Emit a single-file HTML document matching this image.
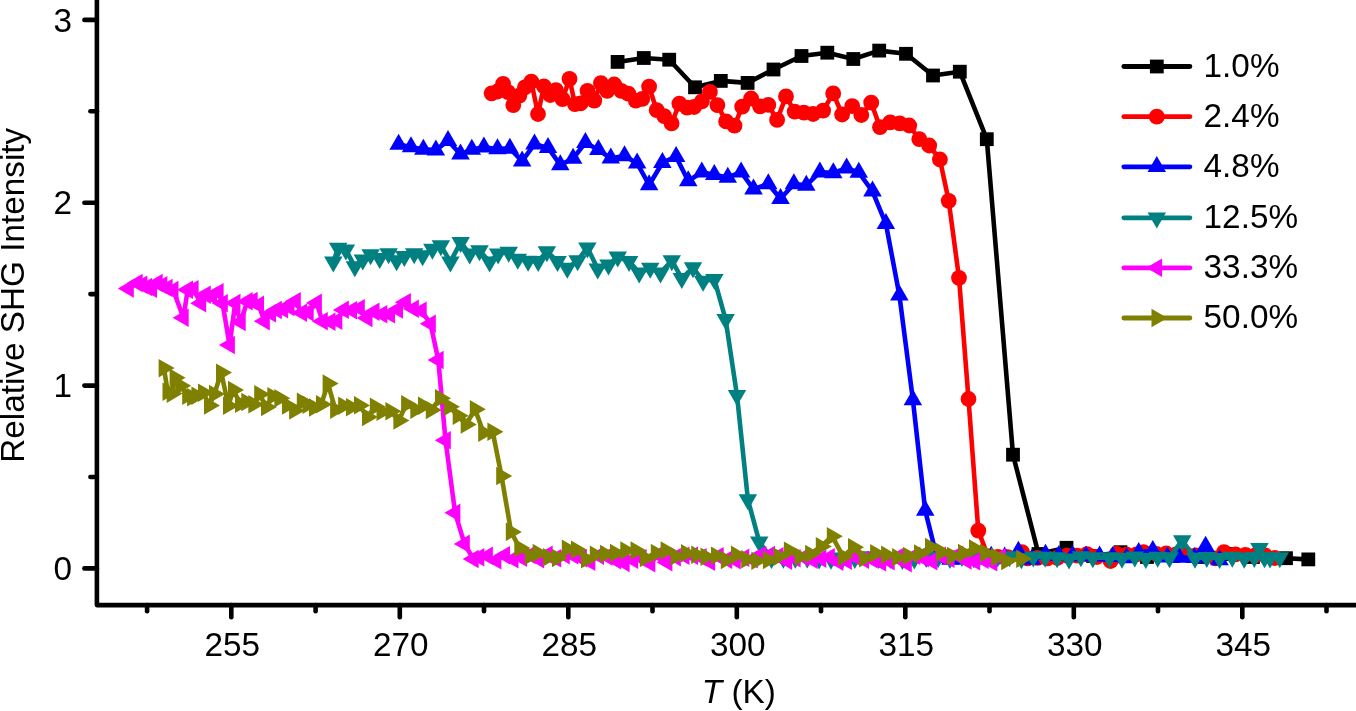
<!DOCTYPE html>
<html lang="en"><head><meta charset="utf-8"><title>Relative SHG Intensity vs T (K)</title>
<style>html,body{margin:0;padding:0;background:#fff;overflow:hidden}svg{display:block}text{font-family:"Liberation Sans",sans-serif;fill:#000}</style></head><body>
<svg width="1356" height="711" viewBox="0 0 1356 711">
<rect width="1356" height="711" fill="#fff"/>
<g fill="#000000" stroke="none">
<polyline points="617.6,61.9 643.8,58 669.2,59.7 695,87.3 720.8,80.9 747.6,82.9 773.5,69.5 801.5,56 827.3,52.7 853.3,59 879.2,50.6 906,53.8 933,75.5 959.8,71.7 986.8,139.2 1013,454.7 1038.5,554 1066.5,547.8 1093,556 1120.5,552.2 1147,557 1173,556 1200,557 1226,554 1253,557 1286,558.2 1308.3,559.4" fill="none" stroke="#000000" stroke-width="4.6" stroke-linejoin="round" stroke-linecap="round"/>
<rect x="610.7" y="55" width="13.8" height="13.8"/><rect x="636.9" y="51.1" width="13.8" height="13.8"/><rect x="662.3" y="52.8" width="13.8" height="13.8"/><rect x="688.1" y="80.4" width="13.8" height="13.8"/><rect x="713.9" y="74" width="13.8" height="13.8"/><rect x="740.7" y="76" width="13.8" height="13.8"/><rect x="766.6" y="62.6" width="13.8" height="13.8"/><rect x="794.6" y="49.1" width="13.8" height="13.8"/><rect x="820.4" y="45.8" width="13.8" height="13.8"/><rect x="846.4" y="52.1" width="13.8" height="13.8"/><rect x="872.3" y="43.7" width="13.8" height="13.8"/><rect x="899.1" y="46.9" width="13.8" height="13.8"/><rect x="926.1" y="68.6" width="13.8" height="13.8"/><rect x="952.9" y="64.8" width="13.8" height="13.8"/><rect x="979.9" y="132.3" width="13.8" height="13.8"/><rect x="1006.1" y="447.8" width="13.8" height="13.8"/><rect x="1031.6" y="547.1" width="13.8" height="13.8"/><rect x="1059.6" y="540.9" width="13.8" height="13.8"/><rect x="1086.1" y="549.1" width="13.8" height="13.8"/><rect x="1113.6" y="545.3" width="13.8" height="13.8"/><rect x="1140.1" y="550.1" width="13.8" height="13.8"/><rect x="1166.1" y="549.1" width="13.8" height="13.8"/><rect x="1193.1" y="550.1" width="13.8" height="13.8"/><rect x="1219.1" y="547.1" width="13.8" height="13.8"/><rect x="1246.1" y="550.1" width="13.8" height="13.8"/><rect x="1279.1" y="551.3" width="13.8" height="13.8"/><rect x="1301.4" y="552.5" width="13.8" height="13.8"/>
</g>
<g fill="#ff0000" stroke="none">
<polyline points="491.6,93.3 497.5,91.5 503.1,83.8 508,92.2 513.3,105.1 519.3,95.7 524.9,87.3 531.3,81.6 538,114 543.9,86.3 550.2,95 555.9,90.1 562.5,99.2 569.5,78.8 574.9,104.1 580.5,103.4 587.5,90.8 594.3,100.6 600.9,83.1 607.2,90.8 614.2,84.5 621.3,90.8 628.3,93.6 635.8,100.6 642.3,98.8 649.1,86.7 656.7,110.2 664.2,116.1 671.6,123.4 679.4,103.7 687.1,107.7 694.1,107 701.9,101.3 709.9,91.9 717.4,105.1 726.1,121.4 734.5,125.7 742.2,106.7 751.1,98.5 760,106.3 768.3,104.9 777.1,119.9 786,96.4 794.7,111.6 803.9,112.6 813.1,114 823.1,110.7 833.2,93.4 842.1,114.5 852.2,106.1 861.3,115 871.2,102.7 880,127.2 890.2,122.3 899.7,123.4 909.2,125.5 919.3,139.2 929.2,145.5 939.9,159.5 948.7,200.8 959,277.8 968.5,399 978.3,530.6 988,556.3 997.9,556.9 1007.8,557.2 1022,552.2 1027.6,558.4 1037.5,557.8 1047.4,558.3 1057.3,557.9 1067.2,555.7 1077.1,555.7 1087,554.1 1096.9,557 1110.6,561 1116.7,553.9 1126.6,554.6 1136.5,554.4 1143.5,552.2 1156.3,553.8 1166.2,553.5 1176.1,554.3 1186,554.1 1195.9,555.5 1205.8,553.6 1215.7,558.3 1224,552.2 1235.5,554.3 1245.4,554.9 1255.3,555.4 1265.2,555.5 1274.7,558" fill="none" stroke="#ff0000" stroke-width="4.6" stroke-linejoin="round" stroke-linecap="round"/>
<circle cx="491.6" cy="93.3" r="7.9"/><circle cx="497.5" cy="91.5" r="7.9"/><circle cx="503.1" cy="83.8" r="7.9"/><circle cx="508" cy="92.2" r="7.9"/><circle cx="513.3" cy="105.1" r="7.9"/><circle cx="519.3" cy="95.7" r="7.9"/><circle cx="524.9" cy="87.3" r="7.9"/><circle cx="531.3" cy="81.6" r="7.9"/><circle cx="538" cy="114" r="7.9"/><circle cx="543.9" cy="86.3" r="7.9"/><circle cx="550.2" cy="95" r="7.9"/><circle cx="555.9" cy="90.1" r="7.9"/><circle cx="562.5" cy="99.2" r="7.9"/><circle cx="569.5" cy="78.8" r="7.9"/><circle cx="574.9" cy="104.1" r="7.9"/><circle cx="580.5" cy="103.4" r="7.9"/><circle cx="587.5" cy="90.8" r="7.9"/><circle cx="594.3" cy="100.6" r="7.9"/><circle cx="600.9" cy="83.1" r="7.9"/><circle cx="607.2" cy="90.8" r="7.9"/><circle cx="614.2" cy="84.5" r="7.9"/><circle cx="621.3" cy="90.8" r="7.9"/><circle cx="628.3" cy="93.6" r="7.9"/><circle cx="635.8" cy="100.6" r="7.9"/><circle cx="642.3" cy="98.8" r="7.9"/><circle cx="649.1" cy="86.7" r="7.9"/><circle cx="656.7" cy="110.2" r="7.9"/><circle cx="664.2" cy="116.1" r="7.9"/><circle cx="671.6" cy="123.4" r="7.9"/><circle cx="679.4" cy="103.7" r="7.9"/><circle cx="687.1" cy="107.7" r="7.9"/><circle cx="694.1" cy="107" r="7.9"/><circle cx="701.9" cy="101.3" r="7.9"/><circle cx="709.9" cy="91.9" r="7.9"/><circle cx="717.4" cy="105.1" r="7.9"/><circle cx="726.1" cy="121.4" r="7.9"/><circle cx="734.5" cy="125.7" r="7.9"/><circle cx="742.2" cy="106.7" r="7.9"/><circle cx="751.1" cy="98.5" r="7.9"/><circle cx="760" cy="106.3" r="7.9"/><circle cx="768.3" cy="104.9" r="7.9"/><circle cx="777.1" cy="119.9" r="7.9"/><circle cx="786" cy="96.4" r="7.9"/><circle cx="794.7" cy="111.6" r="7.9"/><circle cx="803.9" cy="112.6" r="7.9"/><circle cx="813.1" cy="114" r="7.9"/><circle cx="823.1" cy="110.7" r="7.9"/><circle cx="833.2" cy="93.4" r="7.9"/><circle cx="842.1" cy="114.5" r="7.9"/><circle cx="852.2" cy="106.1" r="7.9"/><circle cx="861.3" cy="115" r="7.9"/><circle cx="871.2" cy="102.7" r="7.9"/><circle cx="880" cy="127.2" r="7.9"/><circle cx="890.2" cy="122.3" r="7.9"/><circle cx="899.7" cy="123.4" r="7.9"/><circle cx="909.2" cy="125.5" r="7.9"/><circle cx="919.3" cy="139.2" r="7.9"/><circle cx="929.2" cy="145.5" r="7.9"/><circle cx="939.9" cy="159.5" r="7.9"/><circle cx="948.7" cy="200.8" r="7.9"/><circle cx="959" cy="277.8" r="7.9"/><circle cx="968.5" cy="399" r="7.9"/><circle cx="978.3" cy="530.6" r="7.9"/><circle cx="988" cy="556.3" r="7.9"/><circle cx="997.9" cy="556.9" r="7.9"/><circle cx="1007.8" cy="557.2" r="7.9"/><circle cx="1022" cy="552.2" r="7.9"/><circle cx="1027.6" cy="558.4" r="7.9"/><circle cx="1037.5" cy="557.8" r="7.9"/><circle cx="1047.4" cy="558.3" r="7.9"/><circle cx="1057.3" cy="557.9" r="7.9"/><circle cx="1067.2" cy="555.7" r="7.9"/><circle cx="1077.1" cy="555.7" r="7.9"/><circle cx="1087" cy="554.1" r="7.9"/><circle cx="1096.9" cy="557" r="7.9"/><circle cx="1110.6" cy="561" r="7.9"/><circle cx="1116.7" cy="553.9" r="7.9"/><circle cx="1126.6" cy="554.6" r="7.9"/><circle cx="1136.5" cy="554.4" r="7.9"/><circle cx="1143.5" cy="552.2" r="7.9"/><circle cx="1156.3" cy="553.8" r="7.9"/><circle cx="1166.2" cy="553.5" r="7.9"/><circle cx="1176.1" cy="554.3" r="7.9"/><circle cx="1186" cy="554.1" r="7.9"/><circle cx="1195.9" cy="555.5" r="7.9"/><circle cx="1205.8" cy="553.6" r="7.9"/><circle cx="1215.7" cy="558.3" r="7.9"/><circle cx="1224" cy="552.2" r="7.9"/><circle cx="1235.5" cy="554.3" r="7.9"/><circle cx="1245.4" cy="554.9" r="7.9"/><circle cx="1255.3" cy="555.4" r="7.9"/><circle cx="1265.2" cy="555.5" r="7.9"/><circle cx="1274.7" cy="558" r="7.9"/>
</g>
<g fill="#0000ff" stroke="none">
<polyline points="398.6,144.5 411,147 423.4,149.4 435.9,150.1 448,140.7 460.5,154.3 471.8,149.4 483.9,147.3 497.5,149 509.9,148.4 522.1,161.1 534.5,144.2 548,147.7 560.3,164.9 573.1,158.5 585.4,142.7 598.4,149.8 610.8,158.3 624.5,156 637.1,163.2 649.1,185 662.4,162.7 676.1,156.7 688.2,181 701.8,172.3 714.3,174.8 727.8,177.4 741.1,172.1 753.5,189.2 768.3,184 780.5,198.8 793.9,184 806.3,185.4 819.9,172.1 833.3,173 846.6,168.1 858.8,172.5 872.5,191.3 885.9,223.8 899.4,295.3 912.9,399.9 925.2,510.4 937,557.7 950.5,559.4 964.1,559.1 977.6,559.3 991.2,556.4 1004.7,557.1 1018.4,551.4 1031.8,559.4 1045.5,554.5 1058.9,555.8 1072.5,555.9 1086,556.2 1099.6,556.2 1112.7,556.7 1126.7,557.9 1138.7,552.6 1152.8,550.7 1167.3,557.1 1179,557.5 1194.4,557.8 1205.6,546.5 1219.5,560" fill="none" stroke="#0000ff" stroke-width="4.6" stroke-linejoin="round" stroke-linecap="round"/>
<polygon points="398.6,133.8 407.9,149.8 389.4,149.8"/><polygon points="411,136.3 420.2,152.3 401.8,152.3"/><polygon points="423.4,138.7 432.6,154.7 414.1,154.7"/><polygon points="435.9,139.4 445.1,155.4 426.6,155.4"/><polygon points="448,130 457.2,146 438.8,146"/><polygon points="460.5,143.6 469.8,159.6 451.2,159.6"/><polygon points="471.8,138.7 481.1,154.7 462.6,154.7"/><polygon points="483.9,136.6 493.1,152.6 474.6,152.6"/><polygon points="497.5,138.3 506.8,154.3 488.2,154.3"/><polygon points="509.9,137.7 519.1,153.7 500.6,153.7"/><polygon points="522.1,150.4 531.4,166.4 512.9,166.4"/><polygon points="534.5,133.5 543.8,149.5 525.2,149.5"/><polygon points="548,137 557.2,153 538.8,153"/><polygon points="560.3,154.2 569.5,170.2 551,170.2"/><polygon points="573.1,147.8 582.4,163.8 563.9,163.8"/><polygon points="585.4,132 594.6,148 576.1,148"/><polygon points="598.4,139.1 607.6,155.1 589.1,155.1"/><polygon points="610.8,147.6 620,163.6 601.5,163.6"/><polygon points="624.5,145.3 633.8,161.3 615.2,161.3"/><polygon points="637.1,152.5 646.4,168.5 627.9,168.5"/><polygon points="649.1,174.3 658.4,190.3 639.9,190.3"/><polygon points="662.4,152 671.6,168 653.1,168"/><polygon points="676.1,146 685.4,162 666.9,162"/><polygon points="688.2,170.3 697.5,186.3 679,186.3"/><polygon points="701.8,161.6 711,177.6 692.5,177.6"/><polygon points="714.3,164.1 723.5,180.1 705,180.1"/><polygon points="727.8,166.7 737,182.7 718.5,182.7"/><polygon points="741.1,161.4 750.4,177.4 731.9,177.4"/><polygon points="753.5,178.5 762.8,194.5 744.2,194.5"/><polygon points="768.3,173.3 777.5,189.3 759,189.3"/><polygon points="780.5,188.1 789.8,204.1 771.2,204.1"/><polygon points="793.9,173.3 803.1,189.3 784.6,189.3"/><polygon points="806.3,174.7 815.5,190.7 797,190.7"/><polygon points="819.9,161.4 829.1,177.4 810.6,177.4"/><polygon points="833.3,162.3 842.5,178.3 824,178.3"/><polygon points="846.6,157.4 855.9,173.4 837.4,173.4"/><polygon points="858.8,161.8 868,177.8 849.5,177.8"/><polygon points="872.5,180.6 881.8,196.6 863.2,196.6"/><polygon points="885.9,213.1 895.1,229.1 876.6,229.1"/><polygon points="899.4,284.6 908.6,300.6 890.1,300.6"/><polygon points="912.9,389.2 922.1,405.2 903.6,405.2"/><polygon points="925.2,499.7 934.5,515.7 916,515.7"/><polygon points="937,547 946.2,563 927.8,563"/><polygon points="950.5,548.7 959.8,564.7 941.2,564.7"/><polygon points="964.1,548.4 973.4,564.4 954.9,564.4"/><polygon points="977.6,548.6 986.9,564.6 968.4,564.6"/><polygon points="991.2,545.7 1000.5,561.7 982,561.7"/><polygon points="1004.7,546.4 1014,562.4 995.5,562.4"/><polygon points="1018.4,540.7 1027.7,556.7 1009.1,556.7"/><polygon points="1031.8,548.7 1041,564.7 1022.5,564.7"/><polygon points="1045.5,543.8 1054.8,559.8 1036.2,559.8"/><polygon points="1058.9,545.1 1068.2,561.1 1049.7,561.1"/><polygon points="1072.5,545.2 1081.8,561.2 1063.2,561.2"/><polygon points="1086,545.5 1095.2,561.5 1076.8,561.5"/><polygon points="1099.6,545.5 1108.8,561.5 1090.3,561.5"/><polygon points="1112.7,546 1122,562 1103.5,562"/><polygon points="1126.7,547.2 1136,563.2 1117.5,563.2"/><polygon points="1138.7,541.9 1148,557.9 1129.5,557.9"/><polygon points="1152.8,540 1162,556 1143.5,556"/><polygon points="1167.3,546.4 1176.5,562.4 1158,562.4"/><polygon points="1179,546.8 1188.2,562.8 1169.8,562.8"/><polygon points="1194.4,547.1 1203.7,563.1 1185.2,563.1"/><polygon points="1205.6,535.8 1214.8,551.8 1196.3,551.8"/><polygon points="1219.5,549.3 1228.8,565.3 1210.2,565.3"/>
</g>
<g fill="#008080" stroke="none">
<polyline points="333.3,261.7 338.2,248 345.9,249.9 354.8,266.6 362.8,259.8 370.6,254.5 379.7,258.4 388.6,253.6 396.6,260.5 404.3,256.3 414.2,253.6 422.6,255.6 432.4,249.1 440.9,245.6 450.4,261.9 460.6,242.4 469.7,253.8 479.5,250.6 489.6,261.9 498.1,253.7 508.7,252 517.8,259.1 528.1,261 538.2,261.3 546.9,251.5 557.5,261.3 567.3,268 577.6,260.5 587.4,247.7 597.7,268.7 608.5,264.8 617.7,256.9 629.1,261.3 639.2,272.8 650.2,268.1 660.5,272.7 671.8,260.6 681.8,278.3 693,267.6 703.1,281.1 714.4,279.3 725.6,319.3 737,395.3 747.9,499.6 759.3,541.9 771.5,558.4 783.4,558.1 795.3,558 807.2,557.7 819.1,558.8 831,559.1 842.9,557.7 854.8,558.3 866.7,556.5 878.6,558.4 890.5,558.2 902.4,559.3 914.3,558.8 926.2,557.2 938.1,557.5 950,558.3 961.9,556.4 973.8,557.7 985.7,556.8 997.6,556.7 1009.5,556.5 1021.4,558.6 1033.3,556.7 1045.2,557 1057.1,557.5 1069,558.9 1080.9,556.5 1092.8,557.6 1109.5,557.5 1122,558 1134.8,556.8 1145.8,558.2 1157.7,557 1169.5,557.5 1182.3,540.5 1195,558 1206.8,557.2 1219.6,558.3 1232.3,557 1244.2,558 1254.3,557.2 1259.4,548.2 1264.5,557.6 1270,557.8 1279.8,557.5" fill="none" stroke="#008080" stroke-width="4.6" stroke-linejoin="round" stroke-linecap="round"/>
<polygon points="333.3,272.4 342.6,256.4 324.1,256.4"/><polygon points="338.2,258.7 347.4,242.7 328.9,242.7"/><polygon points="345.9,260.6 355.1,244.6 336.6,244.6"/><polygon points="354.8,277.3 364.1,261.3 345.6,261.3"/><polygon points="362.8,270.5 372.1,254.5 353.6,254.5"/><polygon points="370.6,265.2 379.9,249.2 361.4,249.2"/><polygon points="379.7,269.1 388.9,253.1 370.4,253.1"/><polygon points="388.6,264.3 397.9,248.3 379.4,248.3"/><polygon points="396.6,271.2 405.9,255.2 387.4,255.2"/><polygon points="404.3,267 413.6,251 395.1,251"/><polygon points="414.2,264.3 423.4,248.3 404.9,248.3"/><polygon points="422.6,266.3 431.9,250.3 413.4,250.3"/><polygon points="432.4,259.8 441.6,243.8 423.1,243.8"/><polygon points="440.9,256.3 450.1,240.3 431.6,240.3"/><polygon points="450.4,272.6 459.6,256.6 441.1,256.6"/><polygon points="460.6,253.1 469.9,237.1 451.4,237.1"/><polygon points="469.7,264.5 478.9,248.5 460.4,248.5"/><polygon points="479.5,261.3 488.8,245.3 470.2,245.3"/><polygon points="489.6,272.6 498.9,256.6 480.4,256.6"/><polygon points="498.1,264.4 507.4,248.4 488.9,248.4"/><polygon points="508.7,262.7 518,246.7 499.4,246.7"/><polygon points="517.8,269.8 527,253.8 508.5,253.8"/><polygon points="528.1,271.7 537.4,255.7 518.9,255.7"/><polygon points="538.2,272 547.5,256 529,256"/><polygon points="546.9,262.2 556.1,246.2 537.6,246.2"/><polygon points="557.5,272 566.8,256 548.2,256"/><polygon points="567.3,278.7 576.5,262.7 558,262.7"/><polygon points="577.6,271.2 586.9,255.2 568.4,255.2"/><polygon points="587.4,258.4 596.6,242.4 578.1,242.4"/><polygon points="597.7,279.4 607,263.4 588.5,263.4"/><polygon points="608.5,275.5 617.8,259.5 599.2,259.5"/><polygon points="617.7,267.6 627,251.6 608.5,251.6"/><polygon points="629.1,272 638.4,256 619.9,256"/><polygon points="639.2,283.5 648.5,267.5 630,267.5"/><polygon points="650.2,278.8 659.5,262.8 641,262.8"/><polygon points="660.5,283.4 669.8,267.4 651.2,267.4"/><polygon points="671.8,271.3 681,255.3 662.5,255.3"/><polygon points="681.8,289 691,273 672.5,273"/><polygon points="693,278.3 702.2,262.3 683.8,262.3"/><polygon points="703.1,291.8 712.4,275.8 693.9,275.8"/><polygon points="714.4,290 723.6,274 705.1,274"/><polygon points="725.6,330 734.9,314 716.4,314"/><polygon points="737,406 746.2,390 727.8,390"/><polygon points="747.9,510.3 757.1,494.3 738.6,494.3"/><polygon points="759.3,552.6 768.5,536.6 750,536.6"/><polygon points="771.5,569.1 780.8,553.1 762.2,553.1"/><polygon points="783.4,568.8 792.6,552.8 774.1,552.8"/><polygon points="795.3,568.7 804.5,552.7 786,552.7"/><polygon points="807.2,568.4 816.5,552.4 798,552.4"/><polygon points="819.1,569.5 828.4,553.5 809.9,553.5"/><polygon points="831,569.8 840.2,553.8 821.8,553.8"/><polygon points="842.9,568.4 852.1,552.4 833.6,552.4"/><polygon points="854.8,569 864,553 845.5,553"/><polygon points="866.7,567.2 876,551.2 857.5,551.2"/><polygon points="878.6,569.1 887.9,553.1 869.4,553.1"/><polygon points="890.5,568.9 899.8,552.9 881.2,552.9"/><polygon points="902.4,570 911.6,554 893.1,554"/><polygon points="914.3,569.5 923.5,553.5 905,553.5"/><polygon points="926.2,567.9 935.5,551.9 917,551.9"/><polygon points="938.1,568.2 947.4,552.2 928.9,552.2"/><polygon points="950,569 959.2,553 940.8,553"/><polygon points="961.9,567.1 971.1,551.1 952.6,551.1"/><polygon points="973.8,568.4 983,552.4 964.5,552.4"/><polygon points="985.7,567.5 995,551.5 976.5,551.5"/><polygon points="997.6,567.4 1006.9,551.4 988.4,551.4"/><polygon points="1009.5,567.2 1018.8,551.2 1000.2,551.2"/><polygon points="1021.4,569.3 1030.7,553.3 1012.1,553.3"/><polygon points="1033.3,567.4 1042.5,551.4 1024,551.4"/><polygon points="1045.2,567.7 1054.5,551.7 1036,551.7"/><polygon points="1057.1,568.2 1066.3,552.2 1047.8,552.2"/><polygon points="1069,569.6 1078.2,553.6 1059.8,553.6"/><polygon points="1080.9,567.2 1090.2,551.2 1071.7,551.2"/><polygon points="1092.8,568.3 1102,552.3 1083.5,552.3"/><polygon points="1109.5,568.2 1118.8,552.2 1100.2,552.2"/><polygon points="1122,568.7 1131.2,552.7 1112.8,552.7"/><polygon points="1134.8,567.5 1144,551.5 1125.5,551.5"/><polygon points="1145.8,568.9 1155,552.9 1136.5,552.9"/><polygon points="1157.7,567.7 1167,551.7 1148.5,551.7"/><polygon points="1169.5,568.2 1178.8,552.2 1160.2,552.2"/><polygon points="1182.3,551.2 1191.5,535.2 1173,535.2"/><polygon points="1195,568.7 1204.2,552.7 1185.8,552.7"/><polygon points="1206.8,567.9 1216,551.9 1197.5,551.9"/><polygon points="1219.6,569 1228.8,553 1210.3,553"/><polygon points="1232.3,567.7 1241.5,551.7 1223,551.7"/><polygon points="1244.2,568.7 1253.5,552.7 1235,552.7"/><polygon points="1254.3,567.9 1263.5,551.9 1245,551.9"/><polygon points="1259.4,558.9 1268.7,542.9 1250.2,542.9"/><polygon points="1264.5,568.3 1273.8,552.3 1255.2,552.3"/><polygon points="1270,568.5 1279.2,552.5 1260.8,552.5"/><polygon points="1279.8,568.2 1289,552.2 1270.5,552.2"/>
</g>
<g fill="#ff00ff" stroke="none">
<polyline points="128.5,288.5 137.3,283 142,284.7 146.9,287 151.7,288.7 157.4,283 162.1,285.2 167.3,288 173.2,290 183.4,317.8 187.7,289.8 193.3,289.1 200.9,303.3 205.5,294.6 211.7,296 218.3,292.2 222.5,303.2 229.6,345 235.2,303 240.4,322 247.4,301.4 252.4,301 258.7,304.9 264.5,321.2 270.7,313.4 276.6,310 282.8,309.1 289.2,307 295.5,301.2 301.8,312.8 308.4,312.2 316.6,302.9 322.5,321.2 330.2,321.8 337,320.8 343.6,309.9 351.7,310.2 359.5,308.3 367.2,318 374.2,311.8 382,314.2 389.7,314.4 397.7,309.5 405.6,302.2 413.6,308.8 421.4,310.6 430.5,323.7 438.3,360 445.5,440.3 455.1,512.8 464.5,543.9 473.3,559 479,557.4 487.6,555.9 496.1,560.4 504.7,555.2 513.2,559.3 521.8,557.8 530.3,555 538.8,559.1 547.4,554.8 555.9,558.4 564.5,555.1 573,555.3 581.6,558.3 590.1,561.9 598.7,555.6 607.2,556.5 615.8,560.1 624.3,563 632.9,559.7 641.4,558.1 650,563.3 658.5,554.9 667.1,562.2 675.6,557.1 684.2,555.8 692.7,555.6 701.3,557.3 709.8,561.8 718.4,556.1 726.9,559.7 735.5,560.3 744,557.9 752.6,559.4 761.1,555.1 769.7,555 778.2,556.4 786.8,560.6 795.3,558.3 803.9,557.3 812.4,559.8 821,558.6 829.5,557.2 838.1,561.6 846.6,560.8 855.2,556.7 863.7,559.7 872.3,559.2 880.8,562.4 889.4,561.1 897.9,557.1 906.5,563.3 915,555.6 923.6,558.3 932.1,561.3 940.7,555.9 949.2,558.9 957.8,554.9 966.3,560.5 974.9,561.4 983.4,559.7 992,562.4 1000.5,557.3" fill="none" stroke="#ff00ff" stroke-width="4.6" stroke-linejoin="round" stroke-linecap="round"/>
<polygon points="117.8,288.5 133.8,279.2 133.8,297.8"/><polygon points="126.6,283 142.6,273.8 142.6,292.2"/><polygon points="131.3,284.7 147.3,275.4 147.3,293.9"/><polygon points="136.2,287 152.2,277.8 152.2,296.2"/><polygon points="141,288.7 157,279.4 157,297.9"/><polygon points="146.7,283 162.7,273.8 162.7,292.2"/><polygon points="151.4,285.2 167.4,275.9 167.4,294.4"/><polygon points="156.6,288 172.6,278.8 172.6,297.2"/><polygon points="162.5,290 178.5,280.8 178.5,299.2"/><polygon points="172.7,317.8 188.7,308.6 188.7,327.1"/><polygon points="177,289.8 193,280.6 193,299.1"/><polygon points="182.6,289.1 198.6,279.9 198.6,298.4"/><polygon points="190.2,303.3 206.2,294.1 206.2,312.6"/><polygon points="194.8,294.6 210.8,285.4 210.8,303.9"/><polygon points="201,296 217,286.8 217,305.2"/><polygon points="207.6,292.2 223.6,282.9 223.6,301.4"/><polygon points="211.8,303.2 227.8,293.9 227.8,312.4"/><polygon points="218.9,345 234.9,335.8 234.9,354.2"/><polygon points="224.5,303 240.5,293.8 240.5,312.2"/><polygon points="229.7,322 245.7,312.8 245.7,331.2"/><polygon points="236.7,301.4 252.7,292.1 252.7,310.6"/><polygon points="241.7,301 257.7,291.8 257.7,310.2"/><polygon points="248,304.9 264,295.6 264,314.1"/><polygon points="253.8,321.2 269.8,311.9 269.8,330.4"/><polygon points="260,313.4 276,304.1 276,322.6"/><polygon points="265.9,310 281.9,300.8 281.9,319.2"/><polygon points="272.1,309.1 288.1,299.9 288.1,318.4"/><polygon points="278.5,307 294.5,297.8 294.5,316.2"/><polygon points="284.8,301.2 300.8,291.9 300.8,310.4"/><polygon points="291.1,312.8 307.1,303.6 307.1,322.1"/><polygon points="297.7,312.2 313.7,302.9 313.7,321.4"/><polygon points="305.9,302.9 321.9,293.6 321.9,312.1"/><polygon points="311.8,321.2 327.8,311.9 327.8,330.4"/><polygon points="319.5,321.8 335.5,312.6 335.5,331.1"/><polygon points="326.3,320.8 342.3,311.6 342.3,330.1"/><polygon points="332.9,309.9 348.9,300.6 348.9,319.1"/><polygon points="341,310.2 357,300.9 357,319.4"/><polygon points="348.8,308.3 364.8,299.1 364.8,317.6"/><polygon points="356.5,318 372.5,308.8 372.5,327.2"/><polygon points="363.5,311.8 379.5,302.6 379.5,321.1"/><polygon points="371.3,314.2 387.3,304.9 387.3,323.4"/><polygon points="379,314.4 395,305.1 395,323.6"/><polygon points="387,309.5 403,300.2 403,318.8"/><polygon points="394.9,302.2 410.9,292.9 410.9,311.4"/><polygon points="402.9,308.8 418.9,299.6 418.9,318.1"/><polygon points="410.7,310.6 426.7,301.4 426.7,319.9"/><polygon points="419.8,323.7 435.8,314.4 435.8,332.9"/><polygon points="427.6,360 443.6,350.8 443.6,369.2"/><polygon points="434.8,440.3 450.8,431.1 450.8,449.6"/><polygon points="444.4,512.8 460.4,503.5 460.4,522"/><polygon points="453.8,543.9 469.8,534.6 469.8,553.1"/><polygon points="462.6,559 478.6,549.8 478.6,568.2"/><polygon points="468.3,557.4 484.3,548.1 484.3,566.6"/><polygon points="476.9,555.9 492.9,546.6 492.9,565.1"/><polygon points="485.4,560.4 501.4,551.1 501.4,569.6"/><polygon points="494,555.2 510,546 510,564.5"/><polygon points="502.5,559.3 518.5,550 518.5,568.5"/><polygon points="511.1,557.8 527.1,548.5 527.1,567"/><polygon points="519.6,555 535.6,545.8 535.6,564.2"/><polygon points="528.1,559.1 544.1,549.9 544.1,568.4"/><polygon points="536.7,554.8 552.7,545.5 552.7,564"/><polygon points="545.2,558.4 561.2,549.1 561.2,567.6"/><polygon points="553.8,555.1 569.8,545.9 569.8,564.4"/><polygon points="562.3,555.3 578.3,546 578.3,564.5"/><polygon points="570.9,558.3 586.9,549 586.9,567.5"/><polygon points="579.4,561.9 595.4,552.6 595.4,571.1"/><polygon points="588,555.6 604,546.4 604,564.9"/><polygon points="596.5,556.5 612.5,547.2 612.5,565.8"/><polygon points="605.1,560.1 621.1,550.9 621.1,569.4"/><polygon points="613.6,563 629.6,553.8 629.6,572.2"/><polygon points="622.2,559.7 638.2,550.5 638.2,569"/><polygon points="630.7,558.1 646.7,548.9 646.7,567.4"/><polygon points="639.3,563.3 655.3,554 655.3,572.5"/><polygon points="647.8,554.9 663.8,545.6 663.8,564.1"/><polygon points="656.4,562.2 672.4,553 672.4,571.5"/><polygon points="664.9,557.1 680.9,547.9 680.9,566.4"/><polygon points="673.5,555.8 689.5,546.5 689.5,565"/><polygon points="682,555.6 698,546.4 698,564.9"/><polygon points="690.6,557.3 706.6,548 706.6,566.5"/><polygon points="699.1,561.8 715.1,552.5 715.1,571"/><polygon points="707.7,556.1 723.7,546.9 723.7,565.4"/><polygon points="716.2,559.7 732.2,550.5 732.2,569"/><polygon points="724.8,560.3 740.8,551 740.8,569.5"/><polygon points="733.3,557.9 749.3,548.6 749.3,567.1"/><polygon points="741.9,559.4 757.9,550.1 757.9,568.6"/><polygon points="750.4,555.1 766.4,545.9 766.4,564.4"/><polygon points="759,555 775,545.8 775,564.2"/><polygon points="767.5,556.4 783.5,547.1 783.5,565.6"/><polygon points="776.1,560.6 792.1,551.4 792.1,569.9"/><polygon points="784.6,558.3 800.6,549 800.6,567.5"/><polygon points="793.2,557.3 809.2,548 809.2,566.5"/><polygon points="801.7,559.8 817.7,550.5 817.7,569"/><polygon points="810.3,558.6 826.3,549.4 826.3,567.9"/><polygon points="818.8,557.2 834.8,548 834.8,566.5"/><polygon points="827.4,561.6 843.4,552.4 843.4,570.9"/><polygon points="835.9,560.8 851.9,551.5 851.9,570"/><polygon points="844.5,556.7 860.5,547.5 860.5,566"/><polygon points="853,559.7 869,550.5 869,569"/><polygon points="861.6,559.2 877.6,550 877.6,568.5"/><polygon points="870.1,562.4 886.1,553.1 886.1,571.6"/><polygon points="878.7,561.1 894.7,551.9 894.7,570.4"/><polygon points="887.2,557.1 903.2,547.9 903.2,566.4"/><polygon points="895.8,563.3 911.8,554 911.8,572.5"/><polygon points="904.3,555.6 920.3,546.4 920.3,564.9"/><polygon points="912.9,558.3 928.9,549 928.9,567.5"/><polygon points="921.4,561.3 937.4,552 937.4,570.5"/><polygon points="930,555.9 946,546.6 946,565.1"/><polygon points="938.5,558.9 954.5,549.6 954.5,568.1"/><polygon points="947.1,554.9 963.1,545.6 963.1,564.1"/><polygon points="955.6,560.5 971.6,551.2 971.6,569.8"/><polygon points="964.2,561.4 980.2,552.1 980.2,570.6"/><polygon points="972.7,559.7 988.7,550.5 988.7,569"/><polygon points="981.3,562.4 997.3,553.1 997.3,571.6"/><polygon points="989.8,557.3 1005.8,548 1005.8,566.5"/>
</g>
<g fill="#808000" stroke="none">
<polyline points="163.9,368.1 167.8,391.8 172,393.6 174.9,377.7 180.5,385.7 187.5,395.7 192.4,397.1 196.7,395.6 203.3,392.6 209.3,405.5 214.3,394 221.3,372.6 228.3,405.8 233.3,390 240.3,403.9 246.6,402 253.6,404.4 259.5,394.3 266.3,407 272.6,396.1 279.6,398.2 287.3,405.5 294.4,410.5 302.1,401.7 307.8,404.7 314.3,407.5 321.3,404.4 327.9,383.5 335.4,409.6 343.4,405.7 351.3,407.1 359.3,405.4 367.3,417 375.1,406.8 381.8,411.7 390.7,411.3 398.7,420.5 406.4,404.3 415.6,409.6 423.3,405.8 431.1,410 440.3,398.2 449.2,406.7 458,415.7 466,424.5 475.1,409.3 483.5,432.7 492.7,431.8 501.5,476 511.1,531.9 519.6,548 530.1,555.6 537.9,553 548.3,557.3 557.3,558 567.1,548.8 576.3,549.7 586.3,559.3 595.1,554.7 605.3,554 615.3,553 625.6,550.5 635.8,550.5 645.1,558 656.1,553 665.9,550.5 675.7,556.4 686.3,553.2 696.5,554.9 705.8,556.6 716.3,555.7 726.1,560 736.3,554.9 746.5,559.4 756.6,560.8 768.2,560 778.7,556.6 789.2,550.6 799.9,556.6 810.4,554 821.1,546.4 832.1,536.2 843.2,556.6 853.3,547.2 864.3,558.3 875.4,553.2 886.4,554.9 897.4,557.4 908.3,556 919.3,553.5 930.3,547 941.3,552 952.3,556 963.3,553 974.3,548.5 985.3,553 996.3,557 1006.5,561 1021.5,558.7" fill="none" stroke="#808000" stroke-width="4.6" stroke-linejoin="round" stroke-linecap="round"/>
<polygon points="174.6,368.1 158.6,358.9 158.6,377.4"/><polygon points="178.5,391.8 162.5,382.6 162.5,401.1"/><polygon points="182.7,393.6 166.7,384.4 166.7,402.9"/><polygon points="185.6,377.7 169.6,368.4 169.6,386.9"/><polygon points="191.2,385.7 175.2,376.4 175.2,394.9"/><polygon points="198.2,395.7 182.2,386.4 182.2,404.9"/><polygon points="203.1,397.1 187.1,387.9 187.1,406.4"/><polygon points="207.4,395.6 191.4,386.4 191.4,404.9"/><polygon points="214,392.6 198,383.4 198,401.9"/><polygon points="220,405.5 204,396.2 204,414.8"/><polygon points="225,394 209,384.8 209,403.2"/><polygon points="232,372.6 216,363.4 216,381.9"/><polygon points="239,405.8 223,396.6 223,415.1"/><polygon points="244,390 228,380.8 228,399.2"/><polygon points="251,403.9 235,394.6 235,413.1"/><polygon points="257.3,402 241.3,392.8 241.3,411.2"/><polygon points="264.3,404.4 248.3,395.1 248.3,413.6"/><polygon points="270.2,394.3 254.2,385.1 254.2,403.6"/><polygon points="277,407 261,397.8 261,416.2"/><polygon points="283.3,396.1 267.3,386.9 267.3,405.4"/><polygon points="290.3,398.2 274.3,388.9 274.3,407.4"/><polygon points="298,405.5 282,396.2 282,414.8"/><polygon points="305.1,410.5 289.1,401.2 289.1,419.8"/><polygon points="312.8,401.7 296.8,392.4 296.8,410.9"/><polygon points="318.5,404.7 302.5,395.4 302.5,413.9"/><polygon points="325,407.5 309,398.2 309,416.8"/><polygon points="332,404.4 316,395.1 316,413.6"/><polygon points="338.6,383.5 322.6,374.2 322.6,392.8"/><polygon points="346.1,409.6 330.1,400.4 330.1,418.9"/><polygon points="354.1,405.7 338.1,396.4 338.1,414.9"/><polygon points="362,407.1 346,397.9 346,416.4"/><polygon points="370,405.4 354,396.1 354,414.6"/><polygon points="378,417 362,407.8 362,426.2"/><polygon points="385.8,406.8 369.8,397.6 369.8,416.1"/><polygon points="392.5,411.7 376.5,402.4 376.5,420.9"/><polygon points="401.4,411.3 385.4,402.1 385.4,420.6"/><polygon points="409.4,420.5 393.4,411.2 393.4,429.8"/><polygon points="417.1,404.3 401.1,395.1 401.1,413.6"/><polygon points="426.3,409.6 410.3,400.4 410.3,418.9"/><polygon points="434,405.8 418,396.6 418,415.1"/><polygon points="441.8,410 425.8,400.8 425.8,419.2"/><polygon points="451,398.2 435,388.9 435,407.4"/><polygon points="459.9,406.7 443.9,397.4 443.9,415.9"/><polygon points="468.7,415.7 452.7,406.4 452.7,424.9"/><polygon points="476.7,424.5 460.7,415.2 460.7,433.8"/><polygon points="485.8,409.3 469.8,400.1 469.8,418.6"/><polygon points="494.2,432.7 478.2,423.4 478.2,441.9"/><polygon points="503.4,431.8 487.4,422.6 487.4,441.1"/><polygon points="512.2,476 496.2,466.8 496.2,485.2"/><polygon points="521.8,531.9 505.8,522.6 505.8,541.1"/><polygon points="530.3,548 514.3,538.8 514.3,557.2"/><polygon points="540.8,555.6 524.8,546.4 524.8,564.9"/><polygon points="548.6,553 532.6,543.8 532.6,562.2"/><polygon points="559,557.3 543,548 543,566.5"/><polygon points="568,558 552,548.8 552,567.2"/><polygon points="577.8,548.8 561.8,539.5 561.8,558"/><polygon points="587,549.7 571,540.5 571,559"/><polygon points="597,559.3 581,550 581,568.5"/><polygon points="605.8,554.7 589.8,545.5 589.8,564"/><polygon points="616,554 600,544.8 600,563.2"/><polygon points="626,553 610,543.8 610,562.2"/><polygon points="636.3,550.5 620.3,541.2 620.3,559.8"/><polygon points="646.5,550.5 630.5,541.2 630.5,559.8"/><polygon points="655.8,558 639.8,548.8 639.8,567.2"/><polygon points="666.8,553 650.8,543.8 650.8,562.2"/><polygon points="676.6,550.5 660.6,541.2 660.6,559.8"/><polygon points="686.4,556.4 670.4,547.1 670.4,565.6"/><polygon points="697,553.2 681,544 681,562.5"/><polygon points="707.2,554.9 691.2,545.6 691.2,564.1"/><polygon points="716.5,556.6 700.5,547.4 700.5,565.9"/><polygon points="727,555.7 711,546.5 711,565"/><polygon points="736.8,560 720.8,550.8 720.8,569.2"/><polygon points="747,554.9 731,545.6 731,564.1"/><polygon points="757.2,559.4 741.2,550.1 741.2,568.6"/><polygon points="767.3,560.8 751.3,551.5 751.3,570"/><polygon points="778.9,560 762.9,550.8 762.9,569.2"/><polygon points="789.4,556.6 773.4,547.4 773.4,565.9"/><polygon points="799.9,550.6 783.9,541.4 783.9,559.9"/><polygon points="810.6,556.6 794.6,547.4 794.6,565.9"/><polygon points="821.1,554 805.1,544.8 805.1,563.2"/><polygon points="831.8,546.4 815.8,537.1 815.8,555.6"/><polygon points="842.8,536.2 826.8,527 826.8,545.5"/><polygon points="853.9,556.6 837.9,547.4 837.9,565.9"/><polygon points="864,547.2 848,538 848,556.5"/><polygon points="875,558.3 859,549 859,567.5"/><polygon points="886.1,553.2 870.1,544 870.1,562.5"/><polygon points="897.1,554.9 881.1,545.6 881.1,564.1"/><polygon points="908.1,557.4 892.1,548.1 892.1,566.6"/><polygon points="919,556 903,546.8 903,565.2"/><polygon points="930,553.5 914,544.2 914,562.8"/><polygon points="941,547 925,537.8 925,556.2"/><polygon points="952,552 936,542.8 936,561.2"/><polygon points="963,556 947,546.8 947,565.2"/><polygon points="974,553 958,543.8 958,562.2"/><polygon points="985,548.5 969,539.2 969,557.8"/><polygon points="996,553 980,543.8 980,562.2"/><polygon points="1007,557 991,547.8 991,566.2"/><polygon points="1017.2,561 1001.2,551.8 1001.2,570.2"/><polygon points="1032.2,558.7 1016.2,549.5 1016.2,568"/>
</g>
<g stroke="#000" stroke-width="4.6" stroke-linecap="round" stroke-linejoin="round" fill="none">
<polyline points="96.9,-5 96.9,605.1 1362,605.1"/>
<line x1="96.9" y1="568.4" x2="84.4" y2="568.4"/>
<line x1="96.9" y1="477" x2="90.4" y2="477"/>
<line x1="96.9" y1="385.6" x2="84.4" y2="385.6"/>
<line x1="96.9" y1="294.1" x2="90.4" y2="294.1"/>
<line x1="96.9" y1="202.7" x2="84.4" y2="202.7"/>
<line x1="96.9" y1="111.3" x2="90.4" y2="111.3"/>
<line x1="96.9" y1="19.9" x2="84.4" y2="19.9"/>
<line x1="147.1" y1="605.1" x2="147.1" y2="611.3"/>
<line x1="231.3" y1="605.1" x2="231.3" y2="617.3"/>
<line x1="315.6" y1="605.1" x2="315.6" y2="611.3"/>
<line x1="399.8" y1="605.1" x2="399.8" y2="617.3"/>
<line x1="484" y1="605.1" x2="484" y2="611.3"/>
<line x1="568.3" y1="605.1" x2="568.3" y2="617.3"/>
<line x1="652.5" y1="605.1" x2="652.5" y2="611.3"/>
<line x1="736.8" y1="605.1" x2="736.8" y2="617.3"/>
<line x1="821" y1="605.1" x2="821" y2="611.3"/>
<line x1="905.3" y1="605.1" x2="905.3" y2="617.3"/>
<line x1="989.5" y1="605.1" x2="989.5" y2="611.3"/>
<line x1="1073.8" y1="605.1" x2="1073.8" y2="617.3"/>
<line x1="1158" y1="605.1" x2="1158" y2="611.3"/>
<line x1="1242.3" y1="605.1" x2="1242.3" y2="617.3"/>
<line x1="1326.5" y1="605.1" x2="1326.5" y2="611.3"/>
</g>
<g font-size="33.3">
<text transform="translate(72.1 580) scale(1 1.02)" text-anchor="end">0</text>
<text transform="translate(72.1 397.2) scale(1 1.02)" text-anchor="end">1</text>
<text transform="translate(72.1 214.3) scale(1 1.02)" text-anchor="end">2</text>
<text transform="translate(72.1 31.5) scale(1 1.02)" text-anchor="end">3</text>
<text transform="translate(232.2 656.4) scale(1 1.02)" text-anchor="middle">255</text>
<text transform="translate(400.7 656.4) scale(1 1.02)" text-anchor="middle">270</text>
<text transform="translate(569.2 656.4) scale(1 1.02)" text-anchor="middle">285</text>
<text transform="translate(737.7 656.4) scale(1 1.02)" text-anchor="middle">300</text>
<text transform="translate(906.2 656.4) scale(1 1.02)" text-anchor="middle">315</text>
<text transform="translate(1074.7 656.4) scale(1 1.02)" text-anchor="middle">330</text>
<text transform="translate(1243.2 656.4) scale(1 1.02)" text-anchor="middle">345</text>
<text x="738.8" y="703.4" text-anchor="middle"><tspan font-style="italic">T</tspan> (K)</text>
<text transform="translate(23.9 295.3) rotate(-90)" text-anchor="middle">Relative SHG Intensity</text>
<g fill="#000000"><line x1="1123.8" y1="66.5" x2="1189.9" y2="66.5" stroke="#000000" stroke-width="4.8" stroke-linecap="round"/><rect x="1149.9" y="59.6" width="13.8" height="13.8"/></g>
<text transform="translate(1203.6 76.9) scale(1 1.02)">1.0%</text>
<g fill="#ff0000"><line x1="1123.8" y1="116.7" x2="1189.9" y2="116.7" stroke="#ff0000" stroke-width="4.8" stroke-linecap="round"/><circle cx="1156.8" cy="116.7" r="7.9"/></g>
<text transform="translate(1203.6 127.1) scale(1 1.02)">2.4%</text>
<g fill="#0000ff"><line x1="1123.8" y1="166.8" x2="1189.9" y2="166.8" stroke="#0000ff" stroke-width="4.8" stroke-linecap="round"/><polygon points="1156.8,156.1 1166,172.1 1147.5,172.1"/></g>
<text transform="translate(1203.6 177.2) scale(1 1.02)">4.8%</text>
<g fill="#008080"><line x1="1123.8" y1="217.8" x2="1189.9" y2="217.8" stroke="#008080" stroke-width="4.8" stroke-linecap="round"/><polygon points="1156.8,228.5 1166,212.5 1147.5,212.5"/></g>
<text transform="translate(1203.6 228.2) scale(1 1.02)">12.5%</text>
<g fill="#ff00ff"><line x1="1123.8" y1="267.8" x2="1189.9" y2="267.8" stroke="#ff00ff" stroke-width="4.8" stroke-linecap="round"/><polygon points="1146.1,267.8 1162.1,258.6 1162.1,277.1"/></g>
<text transform="translate(1203.6 278.2) scale(1 1.02)">33.3%</text>
<g fill="#808000"><line x1="1123.8" y1="318" x2="1189.9" y2="318" stroke="#808000" stroke-width="4.8" stroke-linecap="round"/><polygon points="1167.5,318 1151.5,308.8 1151.5,327.2"/></g>
<text transform="translate(1203.6 328.4) scale(1 1.02)">50.0%</text>
</g>
</svg></body></html>
